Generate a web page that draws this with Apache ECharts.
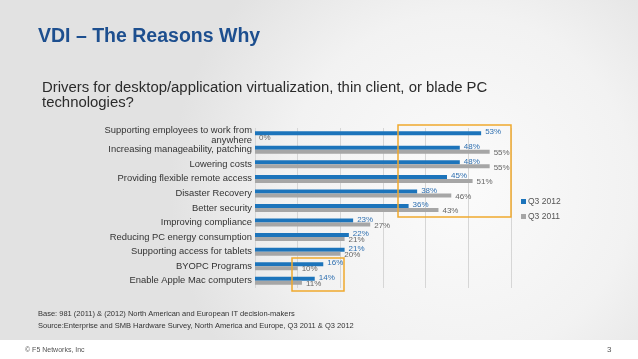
<!DOCTYPE html>
<html>
<head>
<meta charset="utf-8">
<script src="https://cdn.jsdelivr.net/npm/echarts@6/dist/echarts.min.js"></script>
<style>html,body{margin:0;padding:0;background:#fff;}#c{width:638px;height:359px;}</style>
</head>
<body>
<div id="c"></div>
<script>
var categories = [
  'Supporting employees to work from\nanywhere',
  'Increasing manageability, patching',
  'Lowering costs',
  'Providing flexible remote access',
  'Disaster Recovery',
  'Better security',
  'Improving compliance',
  'Reducing PC energy consumption',
  'Supporting access for tablets',
  'BYOPC Programs',
  'Enable Apple Mac computers'
];
var q3_2012 = [53, 48, 48, 45, 38, 36, 23, 22, 21, 16, 14];
var q3_2011 = [0, 55, 55, 51, 46, 43, 27, 21, 20, 10, 11];
var seriesNames = ['Q3 2012', 'Q3 2011'];

var FONT = '"Liberation Sans", Arial, Helvetica, sans-serif';
var chart = echarts.init(document.getElementById('c'), null, {renderer: 'canvas'});
chart.setOption({
  animation: false,
  backgroundColor: '#ffffff',
  textStyle: {fontFamily: FONT},
  graphic: [
    {type: 'rect', z: -10, shape: {x: 0, y: 0, width: 638, height: 340},
      style: {fill: new echarts.graphic.RadialGradient(0.72, 0.55, 0.85, [
        {offset: 0, color: '#fbfbfb'}, {offset: 0.6, color: '#f2f2f2'}, {offset: 1, color: '#e2e2e2'}])}},
    {type: 'text', left: 38, top: 27, style: {text: 'VDI \u2013 The Reasons Why', fill: '#1d4f8f',
      font: 'bold 19.5px ' + FONT}},
    {type: 'text', left: 42, top: 80, style: {text: 'Drivers for desktop/application virtualization, thin client, or blade PC\ntechnologies?',
      fill: '#2b2b2b', font: '14.9px ' + FONT, lineHeight: 15}},
    {type: 'text', left: 38, top: 310, style: {text: 'Base: 981 (2011) & (2012) North American and European IT decision-makers',
      fill: '#333', font: '7.5px ' + FONT}},
    {type: 'text', left: 38, top: 322, style: {text: 'Source:Enterprise and SMB Hardware Survey, North America and Europe, Q3 2011 & Q3 2012',
      fill: '#333', font: '7.5px ' + FONT}},
    {type: 'text', left: 25, top: 347, style: {text: '\u00a9 F5 Networks, Inc', fill: '#555', font: '7px ' + FONT}},
    {type: 'text', left: 607, top: 346, style: {text: '3', fill: '#555', font: '8px ' + FONT}},
    {type: 'rect', z: 10, shape: {x: 398, y: 125, width: 113, height: 92},
      style: {fill: 'none', stroke: '#f0a92e', lineWidth: 1.5}},
    {type: 'rect', z: 10, shape: {x: 292, y: 258, width: 52, height: 33},
      style: {fill: 'none', stroke: '#f0a92e', lineWidth: 1.5}}
  ],
  legend: {
    orient: 'vertical', left: 516, top: 192, itemWidth: 5, itemHeight: 5, itemGap: 6,
    icon: 'rect', data: seriesNames,
    textStyle: {fontSize: 8.5, color: '#555', fontFamily: FONT, padding: [0, 0, 0, -3]}
  },
  grid: {left: 255, right: 127, top: 128, height: 160, containLabel: false},
  xAxis: {
    type: 'value', min: 0, max: 60, interval: 10,
    axisLabel: {show: false}, axisLine: {show: false}, axisTick: {show: false},
    splitLine: {show: true, lineStyle: {color: '#d6d6d6', width: 1}}
  },
  yAxis: {
    type: 'category', inverse: true, data: categories,
    axisLine: {show: false}, axisTick: {show: false},
    axisLabel: {interval: 0, fontSize: 9.4, color: '#333', margin: 3, lineHeight: 10.5, fontFamily: FONT}
  },
  series: [
    {name: seriesNames[0], type: 'bar', data: q3_2012, barWidth: 4, barGap: '0%',
      itemStyle: {color: '#1c74bb'},
      label: {show: true, position: 'right', distance: 4, offset: [0, -1], formatter: '{c}%',
        fontSize: 8, color: '#2e6fb0', fontFamily: FONT}},
    {name: seriesNames[1], type: 'bar', data: q3_2011, barWidth: 4, barGap: '0%',
      itemStyle: {color: '#a6a6a6'},
      label: {show: true, position: 'right', distance: 4, offset: [0, 1], formatter: '{c}%',
        fontSize: 8, color: '#666', fontFamily: FONT}}
  ]
});
</script>
</body>
</html>
